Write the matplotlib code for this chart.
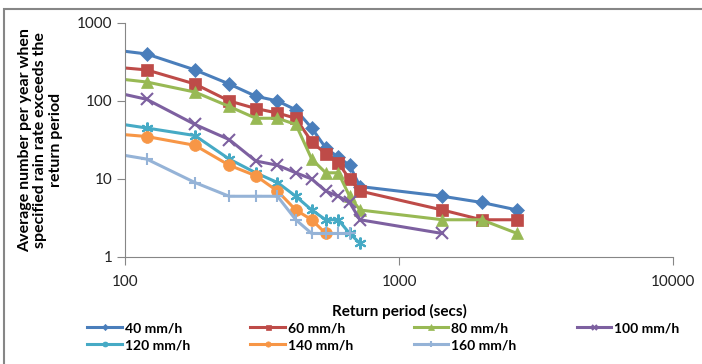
import matplotlib
matplotlib.use("Agg")
import matplotlib.pyplot as plt
from matplotlib.patches import Rectangle

plt.rcParams['font.family'] = ['Lato', 'DejaVu Sans']

# return periods (secs)
x_all = [60, 120, 180, 240, 300, 360, 420, 480, 540, 600, 660, 720, 1440, 2000, 2700]

r40 = [540, 400, 250, 165, 115, 100, 77, 45, 25, 19, 15, 8, 6, 5, 4]
r60 = [310, 250, 165, 100, 80, 70, 60, 30, 21, 16, 10, 7, 4, 3, 3]
r80 = [230, 175, 130, 85, 60, 60, 50, 18, 12, 12, 6, 4, 3, 3, 2]
r100 = [180, 105, 50, 32, 17, 15, 12, 10, 7, 6, 5, 3, 2]
x100 = x_all[:12] + [1440]
r120 = [65, 45, 36, 18, 12, 9, 6, 4, 3, 3, 2, 1.5]
x120 = x_all[:12]
r140 = [43, 35, 27, 15, 11, 7, 4, 3, 2]
x140 = x_all[:9]
r160 = [27, 18, 9, 6, 6, 6, 3, 2, 2, 2, 2]
x160 = x_all[:11]

labels = ['40 mm/h', '60 mm/h', '80 mm/h', '100 mm/h', '120 mm/h', '140 mm/h', '160 mm/h']
colors = ['#4A7EBB', '#BE4B48', '#98B954', '#7D60A0', '#46AAC5', '#F79646', '#95B3D7']

fig = plt.figure(figsize=(7.02, 3.64), dpi=100)
ax = fig.add_axes([0.178, 0.294, 0.781, 0.643])

series = [
    (x_all, r40, 'D', 7, 0.5),
    (x_all, r60, 's', 8, 0.5),
    (x_all, r80, '^', 8.5, 0.5),
    (x100, r100, 'x', 8, 1.5),
    (x120, r120, (6, 2, 0), 8.5, 1.5),
    (x140, r140, 'o', 8.5, 0.5),
    (x160, r160, '+', 8.5, 1.5),
]
handles = []
for (xs, ys, mk, ms, mew), lab, c in zip(series, labels, colors):
    h, = ax.plot(xs, ys, color=c, lw=2.2, marker=mk, ms=ms, mew=mew,
                 mec=c, mfc=c, label=lab, clip_on=True)
    handles.append(h)

ax.set_xscale('log')
ax.set_yscale('log')
ax.set_xlim(100, 10000)
ax.set_ylim(1, 1000)
ax.set_xticks([100, 1000, 10000])
ax.set_xticklabels(['100', '1000', '10000'])
ax.set_yticks([1, 10, 100, 1000])
ax.set_yticklabels(['1', '10', '100', '1000'])
ax.minorticks_off()
for s in ['top', 'right']:
    ax.spines[s].set_visible(False)
for s in ['left', 'bottom']:
    ax.spines[s].set_color('#868686')
ax.tick_params(length=6, color='#868686', labelsize=11, labelcolor='#222222')
ax.tick_params(axis='x', pad=7)
ax.tick_params(axis='y', pad=3)

ax.set_xlabel('Return period (secs)', fontsize=11, fontweight='bold', labelpad=11)
ax.set_ylabel('Average number per year when\nspecified rain rate exceeds the\nreturn period',
              fontsize=11.5, fontweight='bold', labelpad=10, linespacing=1.15)

order = [0, 4, 1, 5, 2, 6, 3]
leg = fig.legend([handles[i] for i in order], [labels[i] for i in order],
                 ncol=4, loc='center', bbox_to_anchor=(0.546, 0.075),
                 frameon=False, markerscale=0.45, handlelength=2.5,
                 handletextpad=0.2, columnspacing=4.35, labelspacing=0.35,
                 prop={'size': 10, 'weight': 'bold'})

fig.patches.append(Rectangle((4 / 702, -0.1), 1.2, 1.075, transform=fig.transFigure,
                             fill=False, ec='#868686', lw=1.5))

fig.savefig('out.png', dpi=100)
